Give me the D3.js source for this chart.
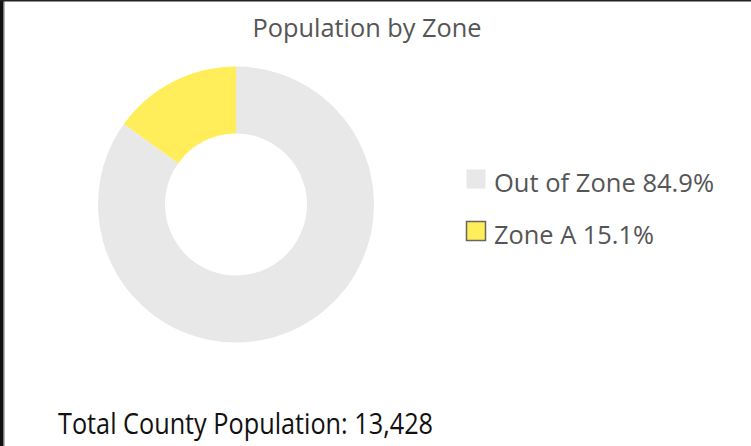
<!DOCTYPE html>
<html>
<head>
<meta charset="utf-8">
<script src="https://cdn.jsdelivr.net/npm/d3@7"></script>
<style>
  body { margin: 0; background: #fff; }
  text { font-family: "Open Sans", "Noto Sans", sans-serif; }
</style>
</head>
<body>
<div class="content"></div>
<script>
// chart data
var zones = ["Out of Zone", "Zone A"];
var shares = [84.9, 15.1];
var zoneColors = ["#e8e8e8", "#ffee5a"];
var totalPopulation = 13428;

var svgWidth = 751;
var svgHeight = 446;

var svg = d3.select(".content")
  .append("svg")
  .attr("width", svgWidth)
  .attr("height", svgHeight);

// frame edges (left and top dark border)
svg.append("rect").attr("x", 0).attr("y", 0).attr("width", 3).attr("height", svgHeight).attr("fill", "#111");
svg.append("rect").attr("x", 3).attr("y", 0).attr("width", 1.5).attr("height", svgHeight).attr("fill", "#777");
svg.append("rect").attr("x", 0).attr("y", 0).attr("width", svgWidth).attr("height", 1.5).attr("fill", "#222");

// title
svg.append("text")
  .attr("x", 367)
  .attr("y", 37)
  .attr("text-anchor", "middle")
  .attr("font-size", 26)
  .attr("fill", "#555")
  .attr("textLength", 229)
  .attr("lengthAdjust", "spacingAndGlyphs")
  .text("Population by Zone");

var data = zones.map(function(z, i) { return { zone: z, share: shares[i] }; });

var color = d3.scaleOrdinal().domain(zones).range(zoneColors);

var pie = d3.pie().sort(null).value(d => d.share);
var arc = d3.arc().innerRadius(71).outerRadius(138);

var donut = svg.append("g")
  .attr("transform", "translate(236, 204.5)");

donut.selectAll("path")
  .data(pie(data))
  .enter()
  .append("path")
  .attr("d", arc)
  .attr("fill", d => color(d.data.zone));

// legend
var legend = svg.append("g")
  .attr("transform", "translate(466, 169)");

var legendRow = legend.selectAll("g")
  .data(data)
  .enter()
  .append("g")
  .attr("transform", (d, i) => `translate(0, ${i * 52})`);

legendRow.append("rect")
  .attr("x", 0.5)
  .attr("y", 0.5)
  .attr("width", 19)
  .attr("height", 19)
  .attr("fill", d => color(d.zone))
  .attr("stroke", (d, i) => i === 1 ? "#666" : "none")
  .attr("stroke-width", 1.5);

legendRow.append("text")
  .attr("x", 28)
  .attr("y", 23)
  .attr("font-size", 26)
  .attr("fill", "#555")
  .attr("textLength", (d, i) => i === 0 ? 220 : 160)
  .attr("lengthAdjust", "spacingAndGlyphs")
  .text(d => `${d.zone} ${d.share.toFixed(1)}%`);

// footer total
svg.append("text")
  .attr("x", 58)
  .attr("y", 434)
  .attr("font-size", 30)
  .attr("fill", "#111")
  .attr("textLength", 375)
  .attr("lengthAdjust", "spacingAndGlyphs")
  .text("Total County Population: " + d3.format(",")(totalPopulation));
</script>
</body>
</html>
